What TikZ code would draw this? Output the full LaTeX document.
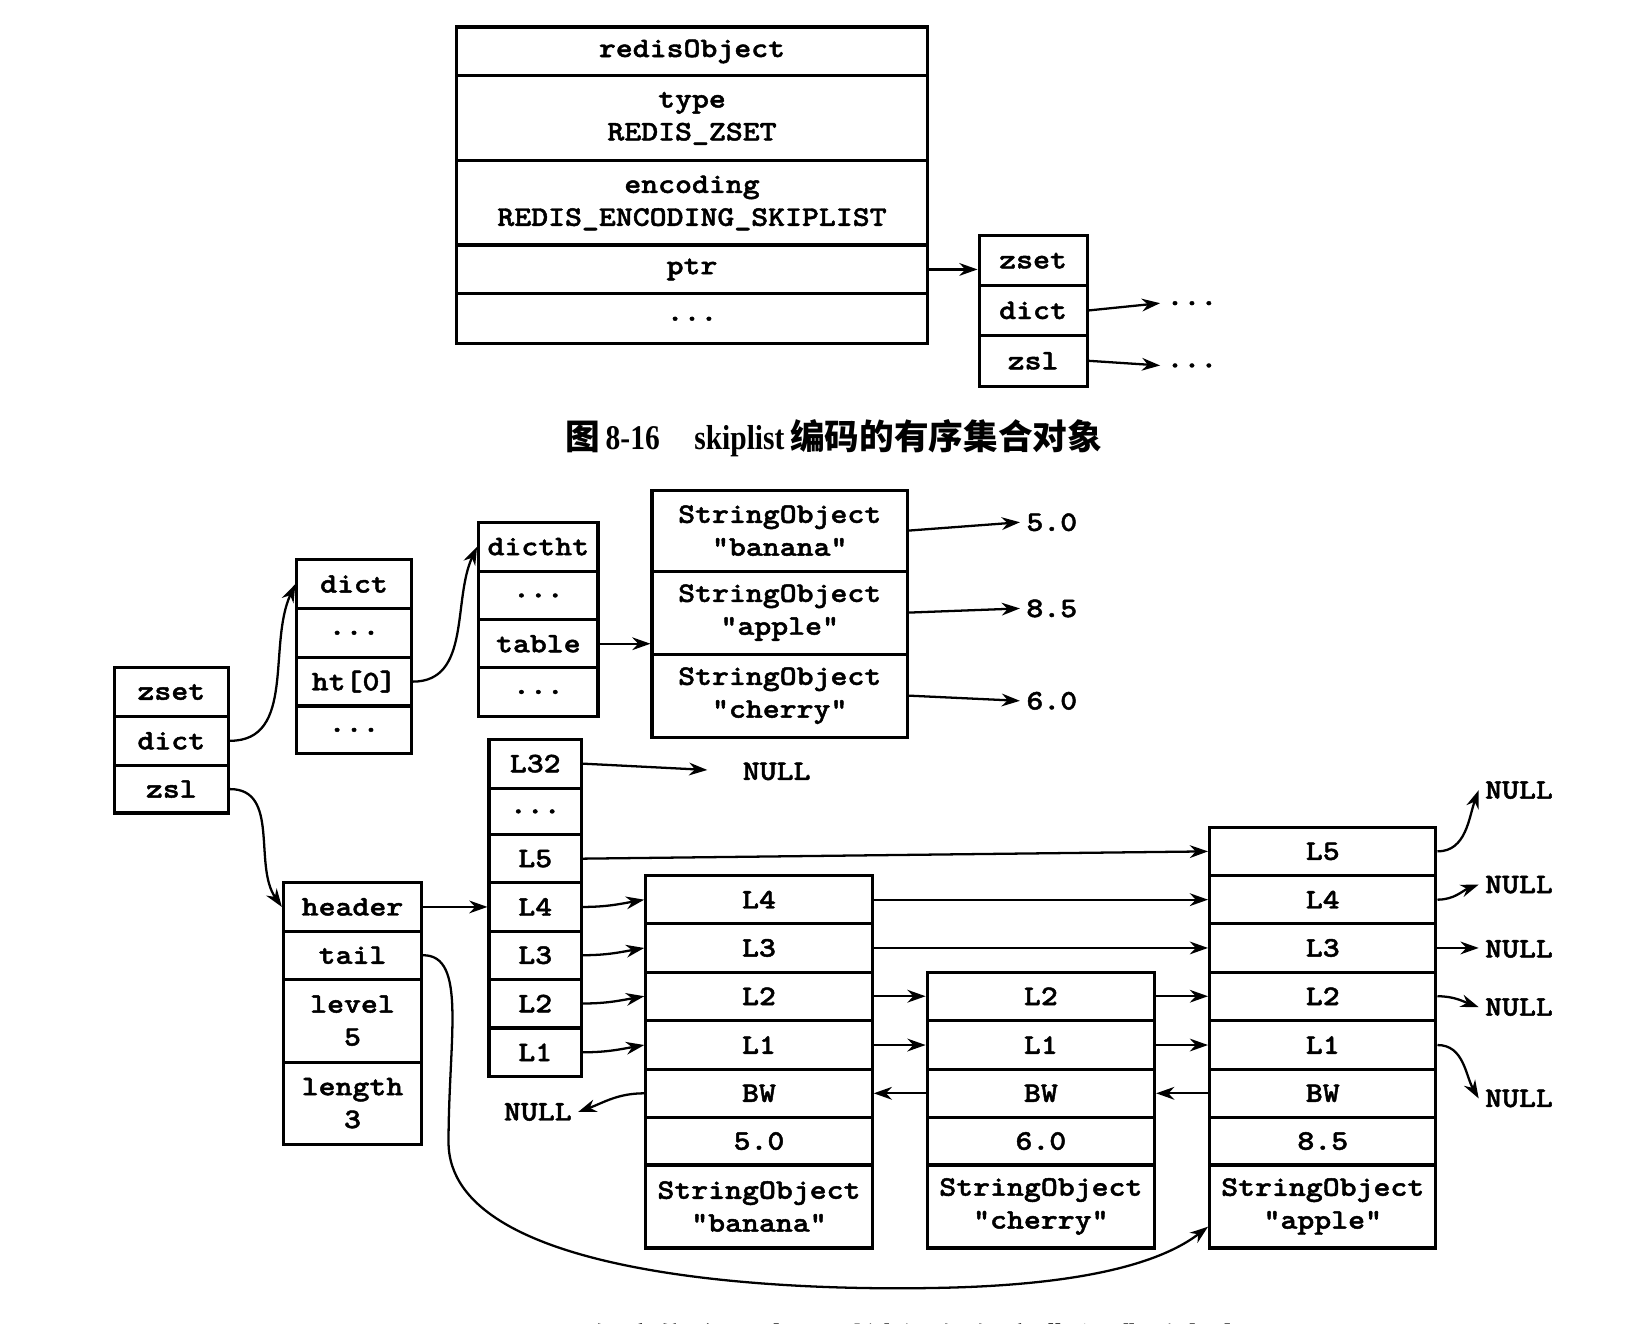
\documentclass[tikz,border=0pt]{standalone}
\usepackage{fontspec}
\setmonofont{lmmonolt10-bold}[Extension=.otf, FakeStretch=1.14, FakeBold=1.6]
\newfontfamily\cjk{Noto Sans CJK SC}
\newfontfamily\capfont[FakeStretch=0.85]{Liberation Serif}
\usetikzlibrary{arrows.meta}

\tikzset{
  cellbox/.style 2 args={draw, line width=1.7pt, inner sep=0pt, align=center,
    minimum width=#1*0.02cm, minimum height=#2*0.02cm,
    font=\ttfamily\fontsize{15.5}{18}\selectfont},
  lbl/.style={font=\ttfamily\fontsize{15.5}{18}\selectfont},
  link/.style={line width=1.25pt, -{Stealth[length=10pt,width=7pt]}},
  capt/.style={font=\bfseries\fontsize{19}{22}\selectfont}
}

\begin{document}
\begin{tikzpicture}[x=0.02cm, y=-0.02cm]
      \useasboundingbox (0,0) rectangle (1568,1275);
      \node[cellbox={453}{47}] (ro) at (666.5,49.5) {redisObject};
      \node[cellbox={453}{82}] (rotype) at (666.5,114) {type\\REDIS\_ZSET};
      \node[cellbox={453}{81}] (roenc) at (666.5,195.5) {encoding\\REDIS\_ENCODING\_SKIPLIST};
      \node[cellbox={453}{47}] (roptr) at (666.5,259.5) {ptr};
      \node[cellbox={453}{48}] (rodots) at (666.5,307) {...};
      \node[cellbox={104}{48}] (tzset) at (995,251) {zset};
      \node[cellbox={104}{48}] (tdict) at (995,299) {dict};
      \node[cellbox={104}{49}] (tzsl) at (995,347.5) {zsl};
      \node[lbl] (tdots1) at (1148,292) {...};
      \node[lbl] (tdots2) at (1148,352) {...};
      \draw[link] (roptr.east) -- (roptr.east -| tzset.west);
      \draw[link] (tdict.east) -- (tdots1.west);
      \draw[link] (tzsl.east) -- (tdots2.west);
      \node[capt] (cap1) at (803,422) {{\cjk 图}\,{\capfont 8-16}\quad{\capfont skiplist}\,{\cjk 编码的有序集合对象}};

      \node[cellbox={110}{47}] (zset) at (165,666.5) {zset};
      \node[cellbox={110}{47}] (zdict) at (165,713.5) {dict};
      \node[cellbox={110}{46}] (zzsl) at (165,760) {zsl};
      \node[cellbox={110}{47}] (d0) at (341,562.5) {dict};
      \node[cellbox={110}{47}] (d1) at (341,609.5) {...};
      \node[cellbox={110}{47}] (d2) at (341,656.5) {ht[0]};
      \node[cellbox={110}{46}] (d3) at (341,703) {...};
      \node[cellbox={115}{47}] (h0) at (518.5,526.5) {dictht};
      \node[cellbox={115}{47}] (h1) at (518.5,573.5) {...};
      \node[cellbox={115}{46}] (h2) at (518.5,620) {table};
      \node[cellbox={115}{47}] (h3) at (518.5,666.5) {...};
      \node[cellbox={246}{78}] (s0) at (751,511) {StringObject\\"banana"};
      \node[cellbox={246}{80}] (s1) at (751,590) {StringObject\\"apple"};
      \node[cellbox={246}{80}] (s2) at (751,670) {StringObject\\"cherry"};
      \node[lbl] (v0) at (1013,503) {5.0};
      \node[lbl] (v1) at (1013,586) {8.5};
      \node[lbl] (v2) at (1013,675) {6.0};
      \draw[link] (s0.east) -- (v0.west);
      \draw[link] (s1.east) -- (v1.west);
      \draw[link] (s2.east) -- (v2.west);
      \draw[link] (h2.east) -- (h2.east -| s1.west);
      \draw[link] (zdict.east) to[out=0,in=-115] (d0.west);
      \draw[link] (d2.east) to[out=0,in=-115] (h0.west);

      \node[cellbox={133}{47}] (zl0) at (339.5,873.5) {header};
      \node[cellbox={133}{46}] (zl1) at (339.5,920) {tail};
      \node[cellbox={133}{80}] (zl2) at (339.5,983) {level\\5};
      \node[cellbox={133}{79}] (zl3) at (339.5,1062.5) {length\\3};
      \draw[link] (zzsl.east) to[out=0,in=125] (zl0.west);

      \node[cellbox={89}{47}] (hd32) at (515.5,735.5) {L32};
      \node[cellbox={89}{45}] (hddots) at (515.5,781.5) {...};
      \foreach \l/\y in {5/827, 4/873.5, 3/920, 2/966.5, 1/1013.5}
        \node[cellbox={89}{46.5}] (hd\l) at (515.5,\y) {L\l};
      \node[lbl] (n32) at (748,743) {NULL};
      \draw[link, shorten >=0.56cm] (hd32.east) -- (n32.west);
      \draw[link] (zl0) -- (hd4);

      \foreach \l/\y in {4/866.5, 3/913, 2/959.5, 1/1006.5}
        \node[cellbox={218}{46.5}] (b\l) at (731,\y) {L\l};
      \node[cellbox={218}{46}] (bbw) at (731,1053) {BW};
      \node[cellbox={218}{46}] (bsc) at (731,1099) {5.0};
      \node[cellbox={218}{80}] (bobj) at (731,1162) {StringObject\\"banana"};

      \foreach \l/\y in {2/959.5, 1/1006.5}
        \node[cellbox={219}{46.5}] (c\l) at (1002.5,\y) {L\l};
      \node[cellbox={219}{46}] (cbw) at (1002.5,1053) {BW};
      \node[cellbox={219}{46}] (csc) at (1002.5,1099) {6.0};
      \node[cellbox={219}{80}] (cobj) at (1002.5,1162) {StringObject\\"cherry"};

      \foreach \l/\y in {5/820, 4/866.5, 3/913, 2/959.5, 1/1006.5}
        \node[cellbox={218}{46.5}] (a\l) at (1274,\y) {L\l};
      \node[cellbox={218}{46}] (abw) at (1274,1053) {BW};
      \node[cellbox={218}{46}] (asc) at (1274,1099) {8.5};
      \node[cellbox={218}{80}] (aobj) at (1274,1162) {StringObject\\"apple"};

      \draw[link] (hd5.east) -- (a5.west);
      \foreach \l in {4,3,2,1}
        \draw[link] (hd\l.east) to[out=0,in=190] (b\l.west);
      \foreach \l in {4,3}
        \draw[link] (b\l) -- (a\l);
      \foreach \l in {2,1} {
        \draw[link] (b\l) -- (c\l);
        \draw[link] (c\l) -- (a\l);
      }
      \draw[link] (abw) -- (cbw);
      \draw[link] (cbw) -- (bbw);
      \node[lbl] (nbw) at (518,1071) {NULL};
      \draw[link] (bbw.west) to[out=180,in=20] (nbw.east);

      \node[lbl] (nA5) at (1463,761) {NULL};
      \node[lbl] (nA4) at (1463,852) {NULL};
      \node[lbl] (nA3) at (1463,914) {NULL};
      \node[lbl] (nA2) at (1463,970) {NULL};
      \node[lbl] (nA1) at (1463,1058) {NULL};
      \draw[link] (a5.east) to[out=0,in=-110] (nA5.west);
      \draw[link] (a4.east) to[out=0,in=200] (nA4.west);
      \draw[link] (a3.east) -- (a3.east -| nA3.west);
      \draw[link] (a2.east) to[out=0,in=160] (nA2.west);
      \draw[link] (a1.east) to[out=0,in=120] (nA1.west);

      \draw[link] (zl1.east) .. controls (450,920) and (432,1000) .. (432,1100)
        .. controls (432,1230) and (750,1245) .. (920,1240)
        .. controls (1050,1236) and (1120,1215) .. (aobj.190);

      \node[capt] (cap2) at (820,1291) {{\cjk 图}\,{\capfont 8-17}\quad{\cjk 有序集合元素同时被保存在字典和跳跃表中}};
\end{tikzpicture}
\end{document}
